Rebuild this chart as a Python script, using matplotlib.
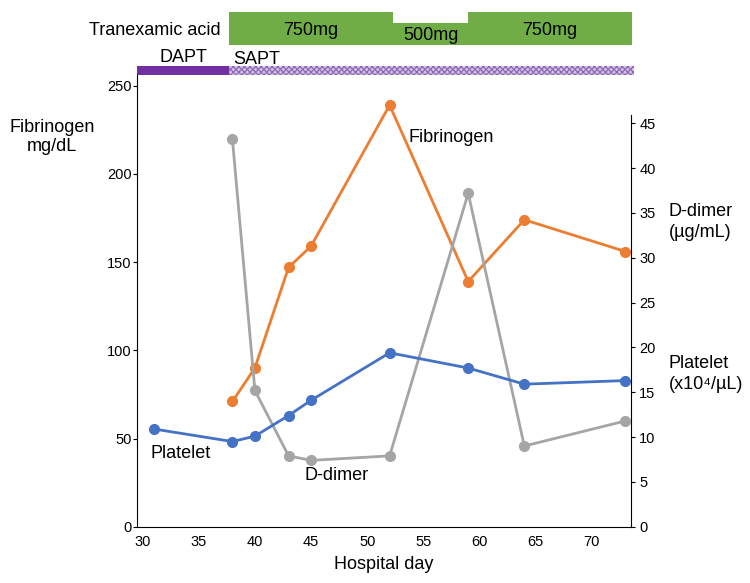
import matplotlib
matplotlib.use("Agg")
import matplotlib.pyplot as plt
import numpy as np

plt.rcParams['font.family'] = ['Liberation Sans', 'DejaVu Sans']
plt.rcParams['hatch.linewidth'] = 0.8

# ─── DATA ────────────────────────────────────────────────────────────────────
fib_days = [38, 40, 43, 45, 52, 59, 64, 73]
fibrinogen = [71, 90, 147, 159, 239, 139, 174, 156]          # mg/dL (left)

dd_days = [38, 40, 43, 45, 52, 59, 64, 73]
d_dimer = [43.2, 15.2, 7.9, 7.4, 7.9, 37.2, 9.0, 11.8]        # ug/mL (right)

plt_days = [31, 38, 40, 43, 45, 52, 59, 64, 73]
platelet = [10.9, 9.5, 10.1, 12.4, 14.1, 19.4, 17.7, 15.9, 16.3]  # x10^4/uL (right)

# tranexamic acid dose periods: (start day, end day, dose)
txa_start = [37.7, 52.3, 59.0]
txa_end = [52.3, 59.0, 73.6]
txa_dose = [750, 500, 750]

# antiplatelet periods
ap_names = ["DAPT", "SAPT"]
ap_start = [29.5, 37.7]
ap_end = [37.7, 73.8]

x_ticks = [30, 35, 40, 45, 50, 55, 60, 65, 70]
left_ticks = [0, 50, 100, 150, 200, 250]
right_ticks = [0, 5, 10, 15, 20, 25, 30, 35, 40, 45]
# ─────────────────────────────────────────────────────────────────────────────

ORANGE = "#ED7D31"
BLUE = "#4472C4"
GRAY = "#A5A5A5"
GREEN = "#70AD47"
PURPLE = "#7030A0"

W, H = 750, 583
fig = plt.figure(figsize=(W / 100, H / 100), dpi=100)

# main axes in pixel terms
x0, x1 = 137, 631
y_bot, y_top = 526.7, 73.3
ax = fig.add_axes([x0 / W, (H - y_bot) / H, (x1 - x0) / W, (y_bot - y_top) / H])
ax.set_xlim(29.5, 73.5)
ax.set_ylim(0, (y_bot - y_top) / 1.764)

ax.plot(fib_days, fibrinogen, color=ORANGE, lw=2.0, marker="o", ms=7, zorder=3)

ax.spines["top"].set_visible(False)
ax.spines["right"].set_visible(False)
ax.set_xticks(x_ticks)
ax.set_yticks(left_ticks)
ax.tick_params(axis="x", length=0, pad=6, labelsize=10.5)
ax.tick_params(axis="y", length=3, width=0.8, pad=1, labelsize=10.5)
ax.set_xlabel("Hospital day", fontsize=13, labelpad=5)

ax2 = ax.twinx()
ax2.set_ylim(0, (y_bot - y_top) / 8.964)
ax2.plot(dd_days, d_dimer, color=GRAY, lw=2.0, marker="o", ms=7, zorder=3)
ax2.plot(plt_days, platelet, color=BLUE, lw=2.0, marker="o", ms=7, zorder=4)
ax2.spines["top"].set_visible(False)
ax2.spines["left"].set_visible(False)
ax2.spines["bottom"].set_visible(False)
ax2.spines["right"].set_bounds(0, (y_bot - 115) / 8.964)
ax2.set_yticks(right_ticks)
ax2.tick_params(axis="y", length=3, width=0.8, pad=3, labelsize=10.5)

# axis titles
fig.text(52 / W, 1 - 137 / H, "Fibrinogen\nmg/dL", ha="center", va="center",
         fontsize=13, linespacing=1.2)
fig.text(669 / W, 1 - 222 / H, "D-dimer\n(µg/mL)", ha="left", va="center",
         fontsize=13, linespacing=1.25)
fig.text(669 / W, 1 - 374 / H, "Platelet\n(x10⁴/µL)", ha="left", va="center",
         fontsize=13, linespacing=1.25)

# in-plot series labels
fig.text(409 / W, 1 - 137 / H, "Fibrinogen", ha="left", va="center", fontsize=13)
fig.text(151 / W, 1 - 453 / H, "Platelet", ha="left", va="center", fontsize=13)
fig.text(304 / W, 1 - 475 / H, "D-dimer", ha="left", va="center", fontsize=13)

# top treatment bars (y in pixels from top)
axt = fig.add_axes([x0 / W, (H - 80) / H, (x1 - x0) / W, 78 / H], sharex=ax)
axt.set_ylim(80, 2)
axt.axis("off")
for s, e, dose in zip(txa_start, txa_end, txa_dose):
    top = 11.8 if dose == 750 else 22.6
    axt.broken_barh([(s, e - s)], (top, 44.9 - top), facecolors=GREEN,
                    edgecolor="none", clip_on=False)
    axt.text((s + e) / 2, 30.5 if dose == 750 else 35, f"{dose}mg",
             ha="center", va="center", fontsize=13, clip_on=False)
fig.text(221 / W, 1 - 30.5 / H, "Tranexamic acid", ha="right", va="center", fontsize=13)

# DAPT solid, SAPT hatched
axt.broken_barh([(ap_start[0], ap_end[0] - ap_start[0])], (66.4, 9), facecolors=PURPLE,
                edgecolor="none", clip_on=False)
axt.broken_barh([(ap_start[1], ap_end[1] - ap_start[1])], (66.4, 9), facecolors="#d2c0e4",
                edgecolor="#8a65b3", hatch="xxxxxx", linewidth=0, clip_on=False)
axt.text((ap_start[0] + ap_end[0]) / 2, 57, ap_names[0], ha="center", va="center",
         fontsize=13, clip_on=False)
axt.text(ap_start[1] + 0.4, 60, ap_names[1], ha="left", va="center",
         fontsize=13, clip_on=False)

fig.savefig("out.png", dpi=100, facecolor="white")
